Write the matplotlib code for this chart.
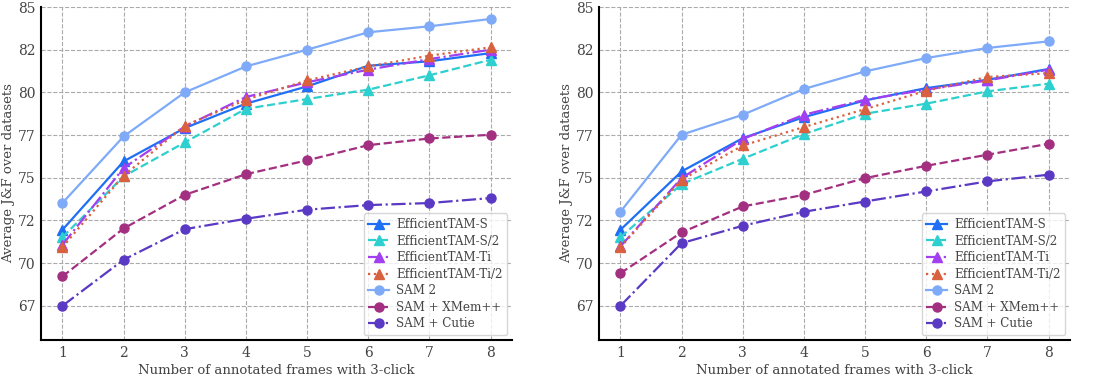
import matplotlib
matplotlib.use('Agg')
import matplotlib.pyplot as plt
from matplotlib.ticker import FormatStrFormatter, MultipleLocator

# frames annotated
frames = [1, 2, 3, 4, 5, 6, 7, 8]

names = ['EfficientTAM-S', 'EfficientTAM-S/2', 'EfficientTAM-Ti', 'EfficientTAM-Ti/2',
         'SAM 2', 'SAM + XMem++', 'SAM + Cutie']
colors = ['#1f6ff5', '#2ecfcf', '#a23ff0', '#d9613f', '#7faaf8', '#a32f80', '#5a39c4']
styles = ['-', '--', '-.', ':', '-', '--', '-.']
markers = ['^', '^', '^', '^', 'o', 'o', 'o']

# left panel
left_vals = [
    [71.95, 75.96, 77.91, 79.34, 80.35, 81.56, 81.82, 82.3],
    [71.52, 75.08, 77.07, 79.04, 79.61, 80.16, 81.0, 81.91],
    [71.07, 75.57, 78.0, 79.73, 80.59, 81.33, 81.95, 82.5],
    [70.94, 75.12, 78.05, 79.57, 80.70, 81.52, 82.15, 82.64],
    [73.52, 77.42, 80.0, 81.52, 82.5, 83.52, 83.87, 84.3],
    [69.22, 72.03, 74.0, 75.21, 76.02, 76.91, 77.30, 77.52],
    [67.5, 70.2, 71.99, 72.6, 73.13, 73.40, 73.52, 73.81],
]

# right panel
right_vals = [
    [71.95, 75.37, 77.32, 78.55, 79.53, 80.25, 80.74, 81.37],
    [71.52, 74.63, 76.11, 77.56, 78.75, 79.34, 80.06, 80.51],
    [70.98, 74.98, 77.27, 78.69, 79.57, 80.16, 80.70, 81.33],
    [70.94, 74.88, 76.89, 77.97, 79.02, 80.10, 80.90, 81.13],
    [73.01, 77.52, 78.69, 80.20, 81.23, 82.01, 82.60, 82.99],
    [69.41, 71.80, 73.32, 74.0, 74.98, 75.70, 76.35, 76.99],
    [67.5, 71.17, 72.19, 73.01, 73.61, 74.20, 74.79, 75.18],
]

plt.rcParams['font.family'] = 'DejaVu Serif'

fig = plt.figure(figsize=(11, 3.76), dpi=100)
ax1 = fig.add_axes([41/1100, 36/376, 471/1100, 333/376])
ax2 = fig.add_axes([599/1100, 36/376, 471/1100, 333/376])

for ax, vals in [(ax1, left_vals), (ax2, right_vals)]:
    for i in range(len(names)):
        ax.plot(frames, vals[i], linestyle=styles[i], marker=markers[i], color=colors[i],
                label=names[i], linewidth=1.6, markersize=6.5)
    ax.set_xlim(0.65, 8.35)
    ax.set_ylim(65.5, 85)
    ax.yaxis.set_major_locator(MultipleLocator(2.5))
    ax.yaxis.set_major_formatter(FormatStrFormatter('%d'))
    ax.set_xticks(frames)
    ax.grid(True, linestyle='--', color='#aaaaaa', linewidth=0.8)
    ax.set_axisbelow(True)
    for s in ['top', 'right']:
        ax.spines[s].set_visible(False)
    for s in ['left', 'bottom']:
        ax.spines[s].set_linewidth(1.5)
        ax.spines[s].set_color('black')
    ax.tick_params(length=0, pad=4, labelsize=10, labelcolor='#444444')
    ax.set_xlabel('Number of annotated frames with 3-click', fontsize=9.5, color='#444444', labelpad=3)
    ax.set_ylabel('Average J&F over datasets', fontsize=9.5, color='#444444', labelpad=2)
    leg = ax.legend(loc='lower right', fontsize=8.6, frameon=True, borderaxespad=0.4,
                    handlelength=1.7, labelspacing=0.3, handletextpad=0.6)
    leg.get_frame().set_edgecolor('#cccccc')
    for t in leg.get_texts():
        t.set_color('#444444')

fig.savefig('out.png', dpi=100)
